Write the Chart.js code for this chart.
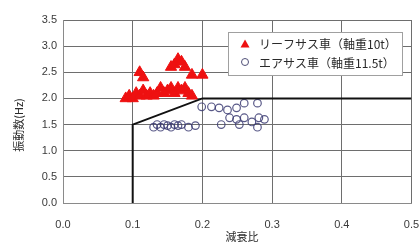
<!DOCTYPE html>
<html>
<head>
<meta charset="utf-8">
<script src="https://cdn.jsdelivr.net/npm/chart.js@4"></script>
<style>
html,body{margin:0;padding:0;background:#fff;}
canvas{display:block;}
</style>
</head>
<body>
<canvas id="c" width="419" height="242"></canvas>
<script>
// ---- data ----
const seriesNames = ['リーフサス車（軸重10t）', 'エアサス車（軸重11.5t）'];
const axisTitles = { x: '減衰比', y: '振動数(Hz)' };
const xTicks = [0.0, 0.1, 0.2, 0.3, 0.4, 0.5];
const yTicks = [0.0, 0.5, 1.0, 1.5, 2.0, 2.5, 3.0, 3.5];

const leafX = [0.09, 0.095, 0.10, 0.105, 0.11, 0.115, 0.12, 0.125, 0.13, 0.135, 0.14, 0.145, 0.15, 0.155, 0.16, 0.165, 0.17, 0.175, 0.18, 0.185,
               0.11, 0.115, 0.155, 0.16, 0.165, 0.17, 0.175, 0.185, 0.20];
const leafY = [2.0, 2.05, 2.0, 2.1, 2.05, 2.15, 2.05, 2.1, 2.05, 2.1, 2.2, 2.1, 2.15, 2.2, 2.1, 2.2, 2.15, 2.2, 2.1, 2.05,
               2.5, 2.4, 2.6, 2.65, 2.75, 2.7, 2.6, 2.45, 2.45];

const airX = [0.13, 0.135, 0.14, 0.145, 0.15, 0.155, 0.16, 0.165, 0.17, 0.18, 0.19,
              0.199, 0.213, 0.224, 0.236, 0.249, 0.26, 0.279,
              0.227, 0.239, 0.249, 0.253, 0.26, 0.271, 0.281, 0.289, 0.279];
const airY = [1.45, 1.5, 1.45, 1.5, 1.48, 1.45, 1.5, 1.48, 1.5, 1.45, 1.48,
              1.84, 1.84, 1.82, 1.78, 1.82, 1.91, 1.91,
              1.5, 1.63, 1.6, 1.5, 1.63, 1.55, 1.63, 1.6, 1.45];

const limitX = [0.1, 0.1, 0.2, 0.5];
const limitY = [0.0, 1.5, 2.0, 2.0];

const toPts = (xs, ys) => xs.map((x, i) => ({ x: x, y: ys[i] }));

const FONT = '"Liberation Sans", Arial, sans-serif';
const JFONT = '"Noto Sans CJK JP", sans-serif';

const overlay = {
  id: 'overlay',
  afterDraw(chart) {
    const ctx = chart.ctx;
    ctx.save();
    // legend box
    ctx.fillStyle = '#fff';
    ctx.fillRect(228.5, 32.5, 174, 43);
    ctx.strokeStyle = '#a0a0a0';
    ctx.lineWidth = 1;
    ctx.strokeRect(228.5, 32.5, 174, 43);
    // triangle
    ctx.fillStyle = '#ee1111';
    ctx.beginPath();
    ctx.moveTo(245, 39.5); ctx.lineTo(249.5, 47.5); ctx.lineTo(240.5, 47.5); ctx.closePath();
    ctx.fill();
    // circle
    ctx.strokeStyle = '#505078';
    ctx.beginPath();
    ctx.arc(245, 62, 3.5, 0, Math.PI * 2);
    ctx.stroke();
    ctx.fillStyle = '#2a2a2a';
    ctx.font = '12px ' + JFONT;
    ctx.textBaseline = 'middle';
    ctx.textAlign = 'left';
    ctx.fillText(seriesNames[0], 259, 44);
    ctx.fillText(seriesNames[1], 259, 63);
    // axis titles
    ctx.font = '11px ' + JFONT;
    ctx.textAlign = 'center';
    ctx.fillText(axisTitles.x, 242, 237);
    ctx.translate(19, 125);
    ctx.rotate(-Math.PI / 2);
    ctx.fillText(axisTitles.y, 0, 0);
    ctx.restore();
  }
};

new Chart(document.getElementById('c'), {
  type: 'scatter',
  data: {
    datasets: [
      {
        label: 'limit',
        type: 'line',
        data: toPts(limitX, limitY),
        borderColor: '#111',
        borderWidth: 2,
        pointRadius: 0,
        fill: false,
        tension: 0,
        order: 0
      },
      {
        label: seriesNames[0],
        data: toPts(leafX, leafY),
        pointStyle: 'triangle',
        pointRadius: 6.5,
        backgroundColor: '#ee1111',
        borderColor: '#ee1111',
        borderWidth: 1,
        order: 2
      },
      {
        label: seriesNames[1],
        data: toPts(airX, airY),
        pointStyle: 'circle',
        pointRadius: 3.8,
        backgroundColor: 'rgba(0,0,0,0)',
        borderColor: 'rgba(60,60,115,0.85)',
        borderWidth: 1.2,
        order: 1
      }
    ]
  },
  options: {
    responsive: false,
    animation: false,
    devicePixelRatio: 1,
    layout: { padding: { top: 20, right: 6, left: 0, bottom: 0 } },
    plugins: { legend: { display: false }, tooltip: { enabled: false } },
    scales: {
      x: {
        type: 'linear',
        min: 0, max: 0.5,
        afterBuildTicks: s => { s.ticks = xTicks.map(v => ({ value: v })); },
        ticks: {
          callback: v => v.toFixed(1),
          font: { family: FONT, size: 11 },
          color: '#3a3a3a',
          padding: 15,
          maxRotation: 0
        },
        grid: { color: '#6e6e6e', lineWidth: 1, drawTicks: false },
        border: { color: '#8a8a8a' },
        afterFit: s => { s.height = 39; s.paddingLeft = 0; s.paddingRight = 0; }
      },
      y: {
        type: 'linear',
        min: 0, max: 3.5,
        afterBuildTicks: s => { s.ticks = yTicks.map(v => ({ value: v })); },
        ticks: {
          callback: v => v.toFixed(1),
          font: { family: FONT, size: 11 },
          color: '#3a3a3a',
          padding: 6
        },
        grid: { color: '#6e6e6e', lineWidth: 1, drawTicks: false },
        border: { color: '#8a8a8a' },
        afterFit: s => { s.width = 63; s.paddingTop = 0; s.paddingBottom = 0; }
      }
    }
  },
  plugins: [overlay]
});
</script>
</body>
</html>
